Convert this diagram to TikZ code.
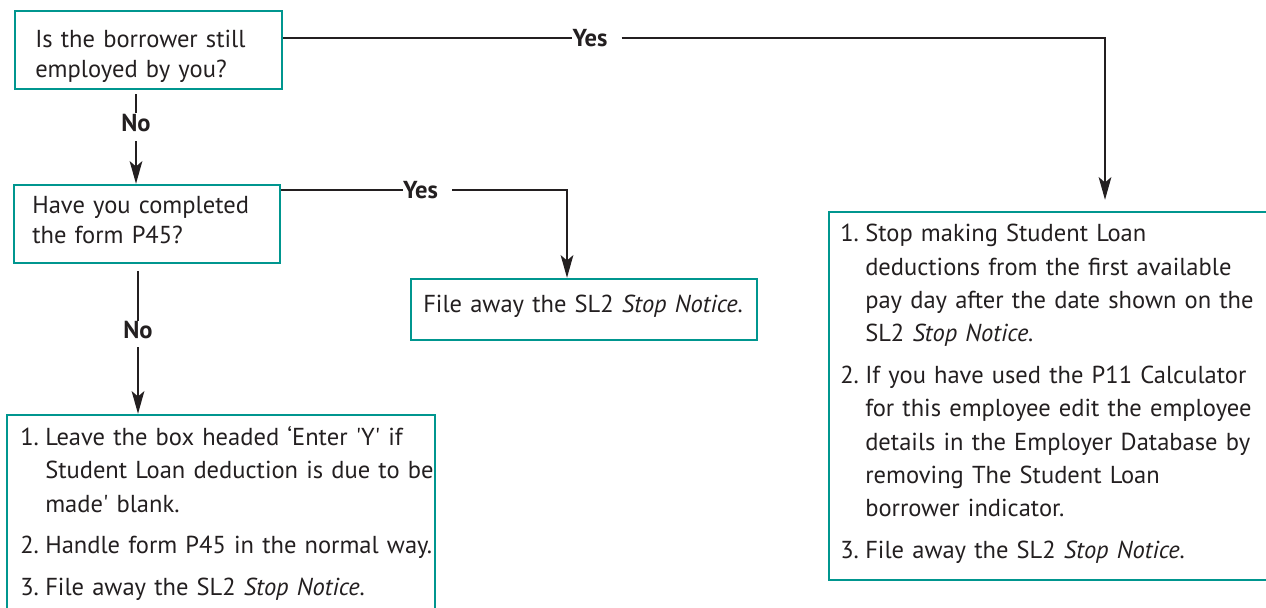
\documentclass[tikz,border=0pt]{standalone}
\usepackage{fontspec}
\setmainfont{PT Sans}
\usetikzlibrary{arrows.meta,fit}
\definecolor{boxteal}{RGB}{0,150,143}
\definecolor{ink}{RGB}{35,31,32}
\newcommand\firststrut{\rule{0pt}{14pt}}
\newcommand\litem[2]{\hangindent=18.75pt\hangafter=1\noindent\makebox[18.75pt][l]{\firststrut#1}#2\par}
\tikzset{
  box/.style={draw=boxteal, line width=1.8pt, inner sep=0pt},
  txt/.style={anchor=north west, inner sep=0pt, align=left, text=ink, text width=400pt,
    font=\fontsize{18.4}{23}\selectfont},
  listtxt/.style={txt, font=\fontsize{18.4}{25}\selectfont},
  lbl/.style={inner sep=0pt, text=ink, font=\fontsize{18.4}{22}\selectfont\bfseries},
  conn/.style={draw=ink, line width=1.5pt},
  arr/.style={conn, -{Stealth[length=17pt,width=9.5pt,inset=4pt]}},
}
\begin{document}
\begin{tikzpicture}[x=0.75pt,y=-0.75pt]
\useasboundingbox (0,0) rectangle (1266,607);
\clip (0,0) rectangle (1266,607);
% boxes
\node[box, fit={(15,11) (282,89)}] (b1) {};
\node[box, fit={(14,185) (280,263)}] (b2) {};
\node[box, fit={(411,279) (757,340)}] (b3) {};
\node[box, fit={(7,415) (435,650)}] (b4) {};
\node[box, fit={(829,212) (1285,580)}] (b5) {};
% texts
\node[txt] (t1) at (35,28.3) {\noindent\firststrut Is the borrower still\newline employed by you?};
\node[txt] (t2) at (32,194.3) {\noindent\firststrut Have you completed\newline the form P45?};
\node[txt] (t3) at (423,293.3) {\noindent\firststrut File away the SL2 \textit{Stop Notice.}};
\node[listtxt] (t4) at (20,426.3) {%
\litem{1.}{Leave the box headed ‘Enter \textquotesingle Y\textquotesingle\ if\newline Student Loan deduction is due to be\newline made\textquotesingle\ blank.}\vspace{6.25pt}%
\litem{2.}{Handle form P45 in the normal way.}\vspace{6.25pt}%
\litem{3.}{File away the SL2 \textit{Stop Notice.}}};
\node[listtxt] (t5) at (840,223) {%
\litem{1.}{Stop making Student Loan\newline deductions from the first available\newline pay day after the date shown on the\newline SL2 \textit{Stop Notice.}}\vspace{6.25pt}%
\litem{2.}{If you have used the P11 Calculator\newline for this employee edit the employee\newline details in the Employer Database by\newline removing The Student Loan\newline borrower indicator.}\vspace{6.25pt}%
\litem{3.}{File away the SL2 \textit{Stop Notice.}}};
% labels
\node[lbl] (yes1) at (590,38) {Yes};
\node[lbl] (no1) at (136,123) {No};
\node[lbl] (yes2) at (420.5,190) {Yes};
\node[lbl] (no2) at (138,330) {No};
\coordinate (c1) at (1105,38);
\coordinate (c2) at (567,190);
% connectors
\draw[conn] (b1.east |- yes1) -- (yes1.west);
\draw[arr, shorten <=10.5pt, shorten >=8.25pt] (yes1.east) -- (c1) -- (c1 |- b5.north);
\draw[conn, shorten <=3pt, shorten >=0.75pt] (no1 |- b1.south) -- (no1.north);
\draw[arr, shorten <=6.75pt] (no1.south) -- (no1 |- b2.north);
\draw[conn] (b2.east |- yes2) -- (yes2.west);
\draw[arr, shorten <=10.5pt] (yes2.east) -- (c2) -- (c2 |- b3.north);
\draw[conn, shorten <=5pt] (no2 |- b2.south) -- (no2.north);
\draw[arr, shorten <=6pt] (no2.south) -- (no2 |- b4.north);
\end{tikzpicture}
\end{document}
